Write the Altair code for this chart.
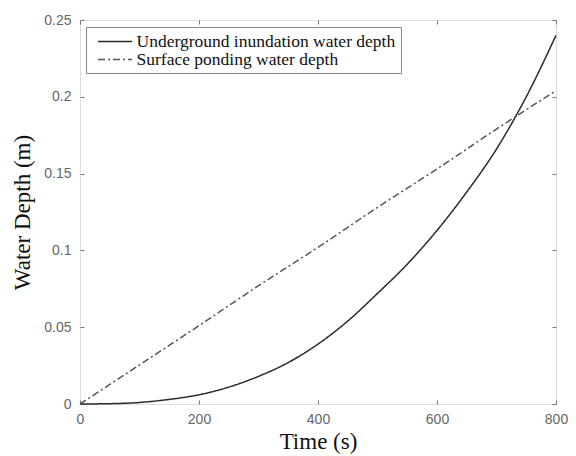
import altair as alt
import pandas as pd

# Values
series_names = ["Underground inundation water depth", "Surface ponding water depth"]

under_time = [0, 50, 100, 150, 200, 250, 300, 350, 400, 450, 500, 550, 600, 650, 700, 750, 800]
under_depth = [0.0, 0.0002, 0.001, 0.003, 0.006, 0.011, 0.018, 0.027, 0.039,
               0.054, 0.072, 0.091, 0.113, 0.138, 0.166, 0.200, 0.240]

surf_time = [0, 100, 200, 300, 400, 500, 600, 700, 800]
surf_depth = [0.0, 0.0255, 0.051, 0.077, 0.102, 0.128, 0.153, 0.179, 0.204]

x_ticks = [0, 200, 400, 600, 800]
y_ticks = [0, 0.05, 0.1, 0.15, 0.2, 0.25]

rows = []
for t, d in zip(under_time, under_depth):
    rows.append({"time": t, "depth": d, "series": series_names[0]})
for t, d in zip(surf_time, surf_depth):
    rows.append({"time": t, "depth": d, "series": series_names[1]})
df = pd.DataFrame(rows)

xscale = alt.Scale(domain=[0, 800], nice=False, zero=False)
yscale = alt.Scale(domain=[0, 0.25], nice=False)

label_font = "Liberation Sans"
title_font = "Liberation Serif"

legend = alt.Legend(
    title=None, orient="none", legendX=6, legendY=7,
    labelFont=title_font, labelFontSize=17.5, labelColor="#111",
    symbolType="M-2,0L2,0", symbolSize=289, symbolStrokeWidth=1.4,
    symbolFillColor="transparent",
    labelOffset=12, rowPadding=0, padding=5, symbolOffset=14.5,
    strokeColor="#888", fillColor="white", labelLimit=400,
)

main = alt.Chart(df).mark_line(strokeWidth=1.5, interpolate="monotone").encode(
    x=alt.X("time:Q", scale=xscale, axis=alt.Axis(
        orient="bottom", values=x_ticks, title="Time (s)", grid=False, domain=False,
        offset=-4, tickSize=4, tickColor="#777", labelPadding=8, labelFont=label_font,
        labelFontSize=14, labelColor="#666", titleFont=title_font, titleFontSize=23,
        titleFontWeight="normal", titleColor="#111", titlePadding=4, labelFlush=False)),
    y=alt.Y("depth:Q", scale=yscale, axis=alt.Axis(
        orient="left", values=y_ticks, title="Water Depth (m)", grid=False, domain=False,
        format="~g", offset=-4, tickSize=4, tickColor="#777", labelPadding=9,
        labelFont=label_font, labelFontSize=14, labelColor="#666", titleFont=title_font,
        titleFontSize=23, titleFontWeight="normal", titleColor="#111", titlePadding=9,
        labelFlush=False)),
    color=alt.Color("series:N", scale=alt.Scale(domain=series_names, range=["#2a2a2a", "#555555"]),
                    legend=legend),
    strokeDash=alt.StrokeDash("series:N", scale=alt.Scale(domain=series_names,
                                                          range=[[1, 0], [7, 3, 2, 3]]),
                              legend=legend),
)

mirror = alt.Chart(df).mark_line(opacity=0).encode(
    x=alt.X("time:Q", scale=xscale, axis=alt.Axis(
        orient="top", values=x_ticks, title=None, labels=False, grid=False, domain=False,
        offset=-4, tickSize=4, tickColor="#777")),
    y=alt.Y("depth:Q", scale=yscale, axis=alt.Axis(
        orient="right", values=y_ticks, title=None, labels=False, grid=False, domain=False,
        offset=-4, tickSize=4, tickColor="#777")),
    detail="series:N",
)

chart = alt.layer(main, mirror).resolve_axis(x="independent", y="independent").properties(
    width=476, height=384,
    autosize=alt.AutoSizeParams(type="none"),
    padding={"left": 72, "top": 12, "right": 12, "bottom": 52},
).configure_view(stroke="#888", strokeWidth=1.2).configure(background="white")

chart.save("out.html", embed_options={"renderer": "svg", "actions": False})
